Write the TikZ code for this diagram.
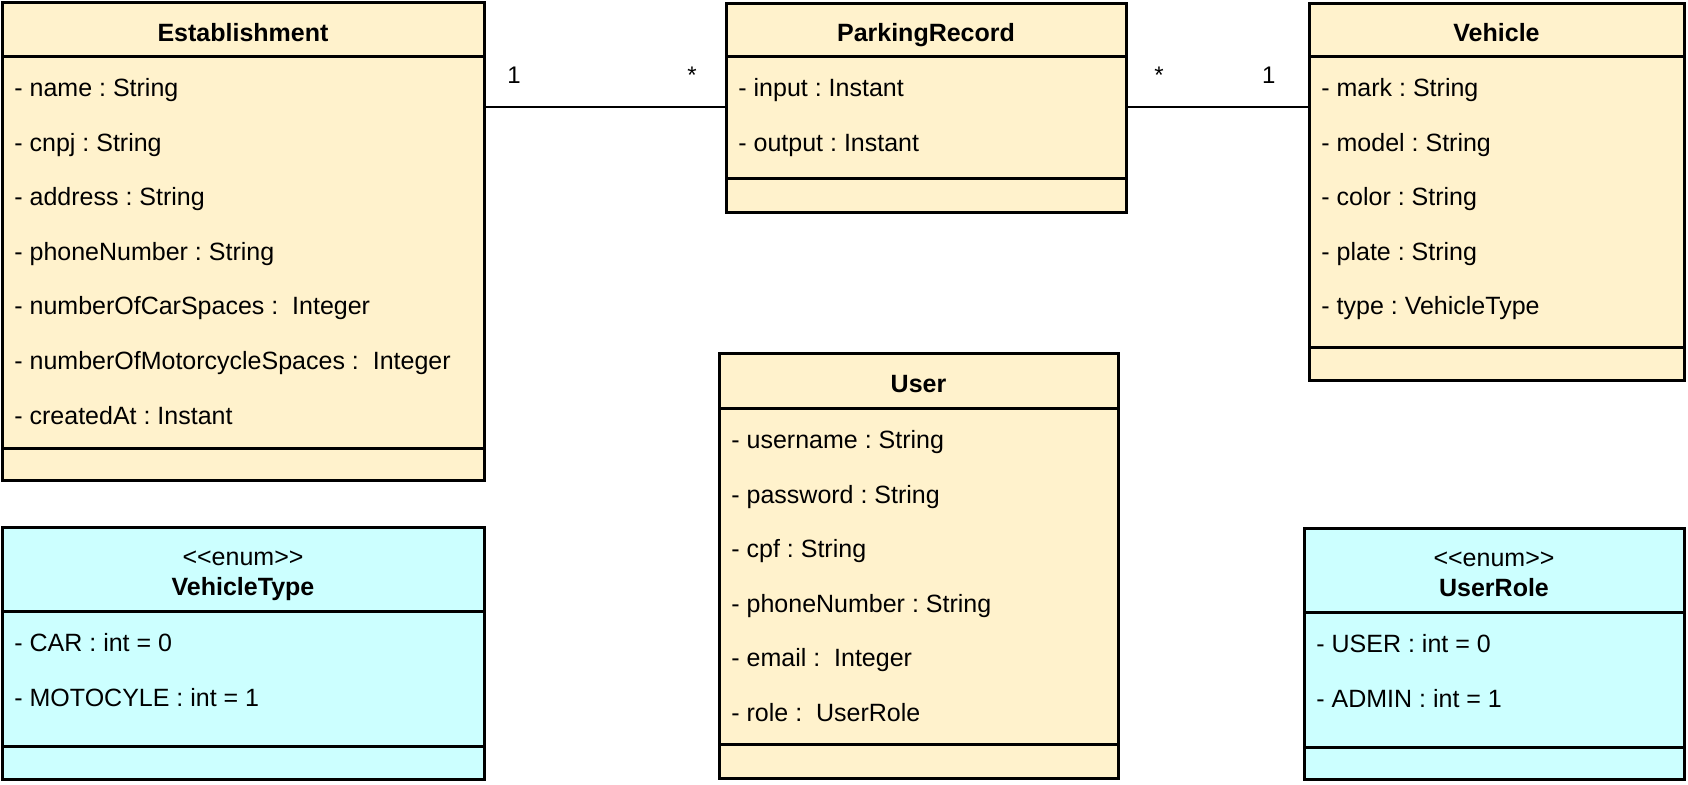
\documentclass[tikz,border=0pt]{standalone}
\usepackage{fontspec}
\setmainfont{Liberation Sans}
\usetikzlibrary{positioning}
\definecolor{classfill}{HTML}{FFF2CC}
\definecolor{enumfill}{HTML}{CCFFFF}
\frenchspacing
\tikzset{
  box/.style = {draw=black, line width=1.5pt, outer sep=0pt, inner sep=0pt},
  cls/.style = {box, fill=classfill},
  enm/.style = {box, fill=enumfill},
  title/.style = {text height=12pt, text depth=0pt,
    font=\fontsize{12.5pt}{15pt}\selectfont\bfseries},
  stereo/.style = {align=center, text height=26.7pt, text depth=0pt,
    font=\fontsize{12.5pt}{15pt}\selectfont},
  attrs/.style = {anchor=north west, align=left, inner sep=0pt,
    execute at begin node=\rule{0pt}{9.5pt},
    font=\fontsize{12.5pt}{27.3pt}\selectfont},
  assoc/.style = {draw=black, line width=1pt},
  mult/.style = {anchor=base, yshift=12pt, inner sep=0pt,
    font=\fontsize{12pt}{14pt}\selectfont}
}

\begin{document}
\begin{tikzpicture}
\useasboundingbox (0,0) rectangle (844pt,-392pt);

\node [cls, title, anchor=north west, minimum width=241pt, minimum height=27pt] (est) at (1pt,-1pt) {Establishment};
\node [cls, below=0pt of est, minimum width=241pt, minimum height=196pt] (estb) {};
\node [cls, below=0pt of estb, minimum width=241pt, minimum height=16pt] (estf) {};
\node [attrs] (estl) at ([shift={(6pt,-11pt)}]estb.north west)
  {- name : String\\- cnpj : String\\- address : String\\- phoneNumber : String\\
   - numberOfCarSpaces : ~Integer\\- numberOfMotorcycleSpaces : ~Integer\\- createdAt : Instant};

\node [cls, title, anchor=north west, minimum width=200pt, minimum height=26.5pt] (pr) at (363pt,-1.5pt) {ParkingRecord};
\node [cls, below=0pt of pr, minimum width=200pt, minimum height=61pt] (prb) {};
\node [cls, below=0pt of prb, minimum width=200pt, minimum height=17pt] (prf) {};
\node [attrs] (prl) at ([shift={(6pt,-11pt)}]prb.north west)
  {- input : Instant\\- output : Instant};

\node [cls, title, anchor=north west, minimum width=187.5pt, minimum height=26.5pt] (veh) at (654.5pt,-1.5pt) {Vehicle};
\node [cls, below=0pt of veh, minimum width=187.5pt, minimum height=145.5pt] (vehb) {};
\node [cls, below=0pt of vehb, minimum width=187.5pt, minimum height=16.5pt] (vehf) {};
\node [attrs] (vehl) at ([shift={(6pt,-11pt)}]vehb.north west)
  {- mark : String\\- model : String\\- color : String\\- plate : String\\- type : VehicleType};

\node [enm, stereo, anchor=north west, minimum width=241pt, minimum height=42pt] (vt) at (1pt,-263.5pt) {<{}<enum>{}>\\\textbf{VehicleType}};
\node [enm, below=0pt of vt, minimum width=241pt, minimum height=67.5pt] (vtb) {};
\node [enm, below=0pt of vtb, minimum width=241pt, minimum height=16.5pt] (vtf) {};
\node [attrs] (vtl) at ([shift={(6pt,-11pt)}]vtb.north west)
  {- CAR : int = 0\\- MOTOCYLE : int = 1};

\node [cls, title, anchor=north west, minimum width=199.5pt, minimum height=27.5pt] (usr) at (359.5pt,-176.5pt) {User};
\node [cls, below=0pt of usr, minimum width=199.5pt, minimum height=168pt] (usrb) {};
\node [cls, below=0pt of usrb, minimum width=199.5pt, minimum height=17pt] (usrf) {};
\node [attrs] (usrl) at ([shift={(6pt,-11pt)}]usrb.north west)
  {- username : String\\- password : String\\- cpf : String\\- phoneNumber : String\\
   - email : ~Integer\\- role : ~UserRole};

\node [enm, stereo, anchor=north west, minimum width=190pt, minimum height=42pt] (ur) at (652pt,-264pt) {<{}<enum>{}>\\\textbf{UserRole}};
\node [enm, below=0pt of ur, minimum width=190pt, minimum height=67.5pt] (urb) {};
\node [enm, below=0pt of urb, minimum width=190pt, minimum height=16pt] (urf) {};
\node [attrs] (url) at ([shift={(6pt,-11pt)}]urb.north west)
  {- USER : int = 0\\- ADMIN : int = 1};

\draw [assoc] ([yshift=5pt]prb.west -| estb.east) -- node [mult, pos=.124] {1} node [mult, pos=.86] {*} ([yshift=5pt]prb.west);
\draw [assoc] ([yshift=5pt]prb.east) -- node [mult, pos=.18] {*} node [mult, pos=.78] {1} ([yshift=5pt]prb.east -| vehb.west);
\end{tikzpicture}
\end{document}
